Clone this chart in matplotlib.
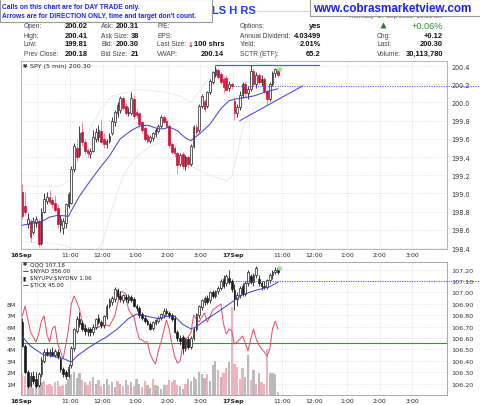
import numpy as np
import matplotlib
matplotlib.use("Agg")
import matplotlib.pyplot as plt
from matplotlib.patches import Rectangle
from matplotlib.lines import Line2D

plt.rcParams['font.family'] = ['DejaVu Sans']

# ---------------- data ----------------
days = ['16Sep', '17Sep']
hour_values = [11, 12, 13, 14, 15]
hour_labels = ['11:00', '12:00', '1:00', '2:00', '3:00']
bars_per_day = 78

spy_open = [199.02, 198.86, 198.66, 198.70, 198.58, 198.68, 198.70, 198.46, 198.80, 198.92,
            198.96, 198.93, 198.90, 198.84, 198.65, 198.62, 198.68, 198.86, 198.90, 199.27,
            199.50, 199.42, 199.68, 199.56, 199.48, 199.43, 199.47, 199.60, 199.62, 199.69,
            199.60, 199.54, 199.58, 199.66, 199.78, 199.88, 199.92, 200.05, 199.96, 199.88,
            199.88, 200.04, 199.90, 199.88, 199.78, 199.72, 199.64, 199.58, 199.61, 199.65,
            199.69, 199.74, 199.84, 199.80, 199.74, 199.54, 199.50, 199.44, 199.32, 199.43,
            199.30, 199.40, 199.32, 199.52, 199.73, 199.70, 199.96, 200.02, 199.96, 200.11,
            200.22, 200.30, 200.36, 200.31, 200.26, 200.27, 200.16, 200.20,
            200.02, 199.88, 199.95, 200.08, 200.20, 200.10, 200.15, 200.35, 200.20, 200.30,
            200.22, 200.26, 200.12, 200.04, 200.20, 200.32, 200.36]
spy_high = [199.10, 199.02, 198.78, 198.72, 198.74, 198.75, 198.72, 198.84, 199.00, 199.02,
            199.04, 198.96, 198.98, 198.88, 198.76, 198.73, 198.90, 199.02, 199.30, 199.55,
            199.60, 199.74, 199.78, 199.60, 199.50, 199.50, 199.70, 199.72, 199.75, 199.82,
            199.66, 199.60, 199.66, 199.84, 199.92, 200.00, 200.07, 200.07, 199.99, 199.95,
            200.11, 200.08, 199.93, 199.90, 199.80, 199.74, 199.66, 199.64, 199.68, 199.72,
            199.76, 199.86, 199.86, 199.83, 199.76, 199.56, 199.52, 199.46, 199.44, 199.46,
            199.42, 199.42, 199.54, 199.75, 199.76, 199.98, 200.09, 200.04, 200.12, 200.26,
            200.35, 200.40, 200.38, 200.33, 200.28, 200.30, 200.24, 200.22,
            200.06, 199.98, 200.12, 200.22, 200.24, 200.18, 200.41, 200.38, 200.33, 200.32,
            200.30, 200.28, 200.15, 200.22, 200.34, 200.38, 200.38]
spy_low = [198.72, 198.76, 198.62, 198.47, 198.55, 198.63, 198.41, 198.43, 198.78, 198.88,
           198.88, 198.84, 198.80, 198.62, 198.58, 198.55, 198.62, 198.84, 198.88, 199.24,
           199.36, 199.40, 199.52, 199.43, 199.40, 199.39, 199.45, 199.56, 199.58, 199.55,
           199.50, 199.50, 199.55, 199.64, 199.74, 199.84, 199.88, 199.92, 199.86, 199.85,
           199.86, 199.82, 199.83, 199.72, 199.66, 199.58, 199.55, 199.55, 199.58, 199.62,
           199.66, 199.72, 199.77, 199.72, 199.50, 199.43, 199.40, 199.21, 199.30, 199.27,
           199.26, 199.28, 199.30, 199.50, 199.64, 199.68, 199.94, 199.90, 199.94, 200.09,
           200.20, 200.28, 200.26, 200.20, 200.10, 200.12, 200.12, 200.15,
           199.81, 199.84, 199.92, 200.05, 200.06, 200.04, 200.12, 200.18, 200.16, 200.20,
           200.18, 200.10, 199.97, 200.02, 200.18, 200.28, 200.28]
spy_close = [198.75, 198.80, 198.72, 198.52, 198.70, 198.72, 198.45, 198.80, 198.94, 198.96,
             198.91, 198.88, 198.82, 198.66, 198.72, 198.70, 198.88, 198.99, 199.27, 199.52,
             199.40, 199.66, 199.56, 199.47, 199.44, 199.47, 199.62, 199.68, 199.70, 199.57,
             199.54, 199.58, 199.63, 199.80, 199.89, 199.97, 200.05, 199.94, 199.88, 199.90,
             200.05, 199.85, 199.86, 199.76, 199.70, 199.60, 199.58, 199.62, 199.66, 199.70,
             199.74, 199.84, 199.79, 199.74, 199.53, 199.46, 199.44, 199.31, 199.42, 199.30,
             199.40, 199.32, 199.52, 199.73, 199.67, 199.96, 200.07, 199.93, 200.11, 200.24,
             200.33, 200.37, 200.28, 200.22, 200.17, 200.14, 200.20, 200.18,
             199.88, 199.95, 200.08, 200.20, 200.10, 200.15, 200.35, 200.20, 200.30, 200.22,
             200.26, 200.12, 200.04, 200.20, 200.32, 200.37, 200.30]

spy_ma_idx = [0, 3, 7, 10, 13, 17, 18, 21, 25, 29, 32, 36, 40, 43, 46, 50, 52, 54, 57, 60,
              62, 65, 69, 73, 76, 79, 85, 89, 94]
spy_ma = [198.65, 198.67, 198.69, 198.74, 198.76, 198.75, 198.81, 198.97, 199.14, 199.30,
          199.41, 199.60, 199.69, 199.74, 199.75, 199.71, 199.71, 199.73, 199.69, 199.61,
          199.58, 199.65, 199.76, 199.93, 200.02, 200.04, 200.07, 200.11, 200.15]
bb_up_idx = [0, 14, 18, 21, 25, 29, 33, 41, 44, 53, 58, 62, 65, 69, 73, 77, 82, 87, 94]
bb_up = [199.08, 199.08, 199.16, 199.43, 199.71, 199.93, 200.07, 200.13, 200.14, 200.11,
         200.07, 200.00, 200.12, 200.28, 200.42, 200.50, 200.45, 200.42, 200.41]
bb_lo_idx = [0, 14, 19, 25, 29, 33, 37, 41, 47, 53, 58, 62, 66, 71, 75, 77, 79, 81, 84, 88, 94]
bb_lo = [198.47, 198.44, 198.39, 198.33, 198.42, 198.83, 199.19, 199.38, 199.52, 199.58,
         199.49, 199.30, 199.24, 199.18, 199.14, 199.18, 199.43, 199.71, 199.90, 199.99, 200.03]

high_line_level = 200.41
high_line_span = [71, 109]
trend_x = [80, 103]
trend_y = [199.80, 200.18]
prev_close = 200.18

qqq_open = [106.74, 106.53, 106.30, 106.19, 106.27, 106.24, 106.19, 106.28, 106.40, 106.48,
            106.46, 106.48, 106.45, 106.48, 106.42, 106.33, 106.30, 106.27, 106.36, 106.51,
            106.66, 106.77, 106.73, 106.69, 106.66, 106.68, 106.65, 106.70, 106.78, 106.74,
            106.71, 106.79, 106.88, 106.92, 106.94, 107.02, 106.97, 106.93, 106.96, 106.93,
            106.96, 106.94, 106.88, 106.86, 106.81, 106.78, 106.75, 106.72, 106.69, 106.73,
            106.75, 106.78, 106.80, 106.84, 106.82, 106.80, 106.78, 106.65, 106.60, 106.61,
            106.51, 106.59, 106.52, 106.60, 106.68, 106.80, 106.87, 106.92, 106.95, 106.93,
            107.00, 106.97, 107.01, 107.04, 107.12, 107.08, 107.13, 107.10,
            107.02, 106.94, 106.98, 107.06, 106.99, 107.08, 107.14, 107.09, 107.15, 107.12,
            107.08, 107.06, 107.05, 107.11, 107.15, 107.18, 107.21]
qqq_high = [106.78, 106.55, 106.32, 106.30, 106.31, 106.30, 106.30, 106.43, 106.50, 106.51,
            106.50, 106.52, 106.50, 106.50, 106.44, 106.35, 106.32, 106.37, 106.53, 106.69,
            106.79, 106.83, 106.76, 106.72, 106.70, 106.70, 106.72, 106.78, 106.81, 106.76,
            106.80, 106.90, 106.95, 106.97, 107.05, 107.04, 107.01, 106.99, 106.99, 106.99,
            106.98, 106.96, 106.90, 106.88, 106.83, 106.80, 106.77, 106.74, 106.75, 106.77,
            106.79, 106.82, 106.86, 106.86, 106.84, 106.82, 106.80, 106.67, 106.63, 106.63,
            106.60, 106.61, 106.62, 106.70, 106.82, 106.89, 106.94, 106.97, 106.98, 107.01,
            107.02, 107.02, 107.06, 107.12, 107.15, 107.16, 107.20, 107.12,
            107.07, 107.00, 107.06, 107.08, 107.10, 107.20, 107.16, 107.17, 107.23, 107.15,
            107.10, 107.10, 107.12, 107.17, 107.20, 107.22, 107.22]
qqq_low = [106.52, 106.28, 106.16, 106.17, 106.20, 106.16, 106.17, 106.26, 106.38, 106.44,
           106.43, 106.44, 106.43, 106.42, 106.30, 106.26, 106.24, 106.25, 106.34, 106.49,
           106.64, 106.70, 106.66, 106.63, 106.62, 106.62, 106.63, 106.68, 106.72, 106.69,
           106.69, 106.77, 106.86, 106.89, 106.92, 106.95, 106.92, 106.91, 106.92, 106.91,
           106.92, 106.87, 106.84, 106.78, 106.76, 106.73, 106.71, 106.67, 106.67, 106.71,
           106.73, 106.76, 106.78, 106.80, 106.78, 106.75, 106.64, 106.57, 106.54, 106.46,
           106.49, 106.50, 106.50, 106.58, 106.66, 106.78, 106.85, 106.89, 106.90, 106.91,
           106.95, 106.95, 106.99, 107.02, 107.04, 107.06, 107.07, 107.00,
           106.85, 106.88, 106.95, 106.97, 106.97, 107.06, 107.07, 107.06, 107.13, 107.06,
           107.02, 107.03, 107.03, 107.08, 107.12, 107.16, 107.16]
qqq_close = [106.53, 106.30, 106.18, 106.27, 106.22, 106.18, 106.28, 106.41, 106.48, 106.46,
             106.48, 106.45, 106.49, 106.44, 106.33, 106.28, 106.27, 106.35, 106.51, 106.68,
             106.77, 106.72, 106.68, 106.66, 106.68, 106.65, 106.70, 106.77, 106.74, 106.71,
             106.79, 106.88, 106.93, 106.95, 107.03, 106.97, 106.94, 106.98, 106.94, 106.97,
             106.93, 106.88, 106.86, 106.80, 106.78, 106.75, 106.72, 106.68, 106.74, 106.76,
             106.78, 106.81, 106.84, 106.82, 106.80, 106.77, 106.65, 106.60, 106.57, 106.51,
             106.59, 106.52, 106.60, 106.68, 106.81, 106.88, 106.93, 106.95, 106.92, 107.00,
             106.97, 107.01, 107.04, 107.10, 107.06, 107.14, 107.09, 107.03,
             106.94, 106.98, 107.04, 106.99, 107.08, 107.18, 107.09, 107.15, 107.21, 107.08,
             107.06, 107.05, 107.11, 107.15, 107.18, 107.20, 107.18]

qqq_ma_idx = [0, 3, 6, 8, 11, 15, 18, 20, 24, 28, 31, 35, 39, 42, 46, 50, 53, 56, 59, 62,
              64, 68, 72, 75, 78, 81, 86, 91, 94]
qqq_ma = [106.61, 106.53, 106.48, 106.45, 106.44, 106.42, 106.39, 106.44, 106.51, 106.57,
          106.61, 106.68, 106.77, 106.81, 106.79, 106.77, 106.79, 106.79, 106.72, 106.68,
          106.70, 106.77, 106.83, 106.88, 106.93, 106.98, 107.02, 107.05, 107.09]
qqq_ref_level = 107.10

volume_m = [1.8, 1.7, 0.9, 1.2, 0.6, 0.8, 1.0, 1.1, 1.2, 0.9,
            1.0, 0.8, 1.1, 1.2, 0.8, 0.9, 1.0, 1.4, 1.8, 2.0,
            1.5, 1.9, 1.3, 1.1, 0.9, 1.2, 1.6, 1.0, 1.3, 0.8,
            1.0, 1.4, 0.9, 1.1, 0.7, 1.2, 1.0, 0.8, 1.3, 0.9,
            1.1, 0.8, 1.4, 1.0, 0.7, 1.2, 0.9, 0.6, 1.4, 0.9,
            0.8, 0.5, 0.9, 0.9, 1.3, 1.1, 1.3, 0.9, 0.8, 0.5,
            1.0, 1.4, 1.2, 1.6, 1.4, 2.0, 1.8, 1.5, 1.8, 1.2,
            2.6, 3.0, 2.2, 1.6, 1.9, 2.4, 2.9, 7.7,
            2.7, 2.5, 1.4, 2.4, 1.6, 3.5, 1.3, 2.2, 1.0, 1.9,
            1.1, 1.0, 4.0, 1.9, 1.9, 1.8, 0.3]
# u = up-volume bar (gray), d = down-volume bar (pink)
volume_dir = ("dduduududd" "dddddduuuu" "uududduudd" "uuduududud" "uduudduudu"
              "uuuddddduu" "duuuuuuudu" "uududdud" "dddduududu" "ddduuud")

nyad = [675, 925, 600, 275, 150, 25, 225, 550, 675, 225,
        25, 350, 425, -25, -200, -400, -25, 350, 975, 1175,
        1025, 850, 525, 400, 275, 325, 350, 350, 400, 425,
        425, 450, 425, 550, 675, 975, 1275, 1275, 1225, 850,
        725, 675, 350, 100, 75, 25, 25, -275, -425, -525,
        -200, 25, 300, 575, 350, -25, -325, -500, -450, -75,
        100, 150, 250, 700, 600, 525, 650, 750, 525, 650,
        825, 875, 925, 975, 475, 225, 350, 300,
        -25, 25, 100, 175, 0, -200, 100, 350, 100, -50,
        -150, -225, -325, -150, 350, 550, 356]

info_rows_y = [26.7, 36, 45, 54.3]
col1 = (['Open:', 'High:', 'Low:', 'Prev Close:'], ['200.02', '200.41', '199.81', '200.18'])
col2 = (['Ask:', 'Ask Size:', 'Bid:', 'Bid Size:'], ['200.31', '38', '200.30', '21'])
col3 = (['P/E:', 'EPS:', 'Last Size:', 'VWAP:'], ['', '', '100 shrs', '200.14'])
col4 = (['Options:', 'Annual Dividend:', 'Yield:', 'SCTR (ETF):'], ['yes', '4.03499', '2.01%', '65.2'])
col5 = (['', 'Chg:', 'Last:', 'Volume:'], ['+0.06%', '+0.12', '200.30', '30,113,780'])

# ---------------- figure ----------------
W, H = 480, 406
fig = plt.figure(figsize=(W / 100, H / 100), dpi=100)
fig.patch.set_facecolor('white')


def fx(x):
    return x / W


def fy(y):
    return 1 - y / H


def ftext(x, y, s, **kw):
    kw.setdefault('va', 'center')
    return fig.text(fx(x), fy(y), s, **kw)


ax1 = fig.add_axes([fx(21), fy(250), (447 - 21) / W, (250 - 62) / H])
ax2 = fig.add_axes([fx(21), fy(396), (447 - 21) / W, (396 - 263) / H])

n = len(spy_close)
xb = np.arange(n)
XLIM = (-0.5, 156.2)


def bar_at(day, hh, mm):
    return day * bars_per_day + ((hh * 60 + mm) - (9 * 60 + 30)) / 5 - 0.5


major_pos, major_lab = [], []
for d, name in enumerate(days):
    major_pos.append(bar_at(d, 9, 30))
    major_lab.append(name)
    for hv, hl in zip(hour_values, hour_labels):
        major_pos.append(bar_at(d, hv, 0))
        major_lab.append(hl)
minor_pos = [bar_at(d, 10, 0) for d in range(len(days))]

GRID = dict(color='#d4d4d4', linestyle=(0, (1, 1.5)), linewidth=0.5)


def style_axes(ax):
    ax.set_xlim(*XLIM)
    for s in ax.spines.values():
        s.set_color('#a8a8a8')
        s.set_linewidth(0.6)
    ax.set_xticks(major_pos)
    ax.set_xticklabels(major_lab)
    ax.set_xticks(minor_pos, minor=True)
    ax.tick_params(axis='x', which='both', length=0, pad=2.2, labelsize=4.4, colors='#222')
    for t in ax.get_xticklabels():
        if t.get_text() in days:
            t.set_fontweight('bold')
    ax.grid(True, axis='x', which='both', **GRID)
    ax.grid(True, axis='y', which='major', **GRID)
    ax.set_axisbelow(True)


def draw_candles(ax, o, h, l, c, up_edge, dn_face, dn_wick, min_h):
    o, h, l, c = map(np.asarray, (o, h, l, c))
    x = np.arange(len(o))
    up = c >= o
    wick_cols = [up_edge if u else dn_wick for u in up]
    ax.vlines(x, l, h, colors=wick_cols, linewidth=0.6, zorder=3)
    bh = np.maximum(np.abs(c - o), min_h)
    bot = np.minimum(o, c)
    ax.bar(x[up], bh[up], bottom=bot[up], width=0.62, facecolor='white',
           edgecolor=up_edge, linewidth=0.5, zorder=4)
    ax.bar(x[~up], bh[~up], bottom=bot[~up], width=0.62, facecolor=dn_face,
           edgecolor=dn_face, linewidth=0.5, zorder=4)


# ---- top panel (SPY) ----
style_axes(ax1)
ax1.set_ylim(198.39, 200.455)
ax1.yaxis.tick_right()
ax1.set_yticks(np.round(np.arange(198.4, 200.41, 0.2), 1))
ax1.set_yticklabels([f"{v:.1f}" for v in np.arange(198.4, 200.41, 0.2)])
ax1.tick_params(axis='y', length=0, pad=3, labelsize=4.7, colors='#333')

ax1.plot(bb_up_idx, bb_up, color='#dcebdc', lw=0.55, zorder=2)
ax1.plot(bb_lo_idx, bb_lo, color='#dcebdc', lw=0.55, zorder=2)
draw_candles(ax1, spy_open, spy_high, spy_low, spy_close,
             up_edge='#1e1e1e', dn_face='#d0103a', dn_wick='#e77a90', min_h=0.008)
ax1.plot(spy_ma_idx, spy_ma, color='#3c3cc8', lw=0.7, zorder=5)
ax1.plot(high_line_span, [high_line_level] * 2, color='#4d4dff', lw=0.8, zorder=5,
         clip_on=False)
ax1.plot(trend_x, trend_y, color='#4d4dff', lw=0.8, zorder=5)
ax1.plot([bar_at(1, 9, 30), 169], [prev_close] * 2, color='#5555ff', lw=0.8,
         linestyle=(0, (1, 1.2)), zorder=5, clip_on=False)
ax1.plot([xb[-1] + 0.3], [spy_high[-1] - 0.01], marker='s', ms=2.4, color='#8be08b',
         mec='none', zorder=6)

# ---- bottom panel (QQQ + volume + NYAD) ----
style_axes(ax2)
vol_top = 11.67
ax2.set_ylim(0, vol_top)
ax2.set_yticks(np.arange(1, 12))
ax2.set_yticklabels([f"{v}M" if v <= 8 else '' for v in range(1, 12)])
ax2.tick_params(axis='y', length=0, pad=3.5, labelsize=4.6, colors='#333')
vcols = ['#bababa' if d == 'u' else '#edb4bd' for d in volume_dir]
ax2.bar(xb, volume_m, width=0.82, color=vcols, zorder=2)

ax2n = ax2.twinx()
ax2n.set_ylim(-1300, 2025)
ax2n.set_yticks([])
for s in ax2n.spines.values():
    s.set_visible(False)
ax2n.axhline(0, color='#3f8f3f', lw=0.8, zorder=2)
ax2n.plot(xb, nyad, color='#e24a66', lw=0.7, zorder=3)

ax2q = ax2.twinx()
ax2q.set_xlim(*XLIM)
ax2q.set_ylim(106.10, 106.10 + vol_top * 0.1)
qt = np.arange(106.2, 107.21, 0.1)
ax2q.set_yticks(np.round(qt, 2))
ax2q.set_yticklabels([f"{v:.2f}" for v in qt])
ax2q.tick_params(axis='y', length=0, pad=3, labelsize=4.6, colors='#333')
for s in ax2q.spines.values():
    s.set_color('#a8a8a8')
    s.set_linewidth(0.6)
draw_candles(ax2q, qqq_open, qqq_high, qqq_low, qqq_close,
             up_edge='#1a1a1a', dn_face='#1a1a1a', dn_wick='#1a1a1a', min_h=0.005)
ax2q.plot(qqq_ma_idx, qqq_ma, color='#3c3cc8', lw=0.7, zorder=5)
ax2q.plot([bar_at(1, 9, 30), 169], [qqq_ref_level] * 2, color='#5555ff', lw=0.8,
          linestyle=(0, (1, 1.2)), zorder=5, clip_on=False)
ax2q.plot([xb[-1] + 0.3], [qqq_high[-1] - 0.005], marker='s', ms=2.4, color='#8be08b',
          mec='none', zorder=6)

# ---- legends inside panels ----
ftext(22.5, 66.5, '¥', fontsize=4.6, fontweight='bold', color='#222')
ftext(29.5, 66.5, f'SPY (5 min) {spy_close[-1]:.2f}', fontsize=4.6, color='#222')
leg_rows = [('¥', f'QQQ {qqq_close[-1]:.2f}'),
            ('—', f'\\$NYAD {nyad[-1]:.2f}'),
            ('▮', '\\$NYUPV:\\$NYDNV 1.06'),
            ('—', '\\$TICK 45.00')]
for k, (ic, lab) in enumerate(leg_rows):
    yy = 265 + k * 7
    ftext(22.5, yy, ic, fontsize=4.2, fontweight='bold', color='#222')
    ftext(29.5, yy, lab, fontsize=4.1, color='#222')

# ---- header ----
HF = 'Liberation Sans'
ftext(212, 10.5, 'LS H RS', fontsize=8, fontweight='bold', color='#1f3cff', family=HF, zorder=2)
fig.add_artist(Line2D([fx(257), fx(312)], [fy(12), fy(12)], color='#cfcfcf', lw=0.6, zorder=2))
ftext(395, 16.2, 'Thursday  17 Sep 2015  10:51 am', fontsize=4.5, color='#555',
      ha='center', family=HF, zorder=2)

fig.add_artist(Rectangle((0, fy(23)), fx(212), 23 / H, transform=fig.transFigure,
                         facecolor='white', edgecolor='#9a9a9a', lw=0.8, zorder=5))
ftext(2.5, 7.5, 'Calls on this chart are for DAY TRADE only.', fontsize=4.8,
      fontweight='bold', color='#1a2ad8', family=HF, zorder=6)
ftext(2.5, 16.5, "Arrows are for DIRECTION ONLY, time and target don't count.", fontsize=4.8,
      fontweight='bold', color='#1a2ad8', family=HF, zorder=6)
fig.add_artist(Rectangle((fx(310), fy(16.5)), fx(175), 17 / H, transform=fig.transFigure,
                         facecolor='white', edgecolor='#9a9a9a', lw=0.8, zorder=5))
ftext(392.5, 8.5, 'www.cobrasmarketview.com', fontsize=8.4, fontweight='bold',
      color='#1a22ee', ha='center', family=HF, zorder=6)

LAB = dict(fontsize=4.8, color='#444', family=HF)
VAL = dict(fontsize=5.4, color='#111', fontweight='bold', family=HF, ha='right')
for (labels, vals), lx, vx in [(col1, 24, 87.5), (col2, 101, 139), (col3, 157, 224),
                               (col4, 240, 321), (col5, 377, 443)]:
    for k, (lab, val) in enumerate(zip(labels, vals)):
        y = info_rows_y[k]
        if lab:
            ftext(lx, y, lab, **LAB)
        if val:
            if val.endswith('%') and val.startswith('+'):
                ftext(vx, y - 0.5, val, fontsize=6.6, color='#2e8b2e', family=HF, ha='right')
            else:
                ftext(vx, y, val, **VAL)
ftext(190.5, info_rows_y[2], '↓', fontsize=5.0, fontweight='bold', color='#c8102e', ha='center')
fig.add_artist(Line2D([fx(383)], [fy(25.5)], marker='^', ms=4.8, color='#2e7d2e',
                      mec='none', transform=fig.transFigure))

fig.savefig('out.png', dpi=100, facecolor='white')
